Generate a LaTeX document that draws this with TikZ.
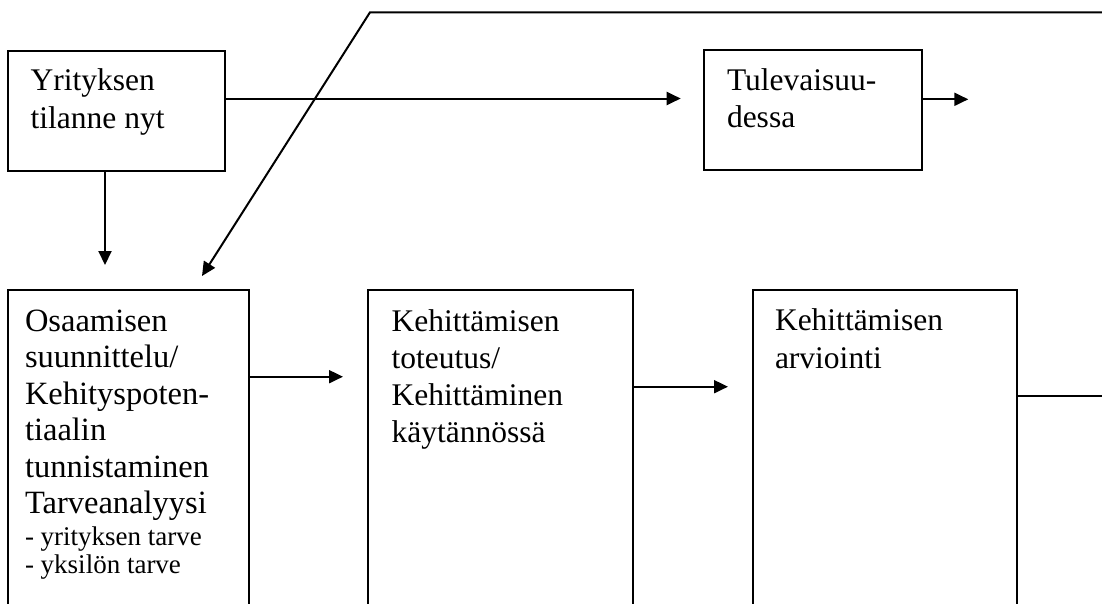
\documentclass[tikz,border=0pt]{standalone}
\usepackage{fontspec}
\setmainfont{Liberation Serif}
\usetikzlibrary{arrows.meta}
\begin{document}
\begin{tikzpicture}[x=1pt,y=-1pt,
  box/.style={draw, line width=2pt, inner sep=0pt, outer sep=0pt, anchor=north west},
  lbl/.style={anchor=base west, inner sep=0pt, outer sep=0pt},
  link/.style={line width=2pt},
  arr/.style={line width=2pt, -{Triangle[length=14pt,width=13pt]}}]
\useasboundingbox (0,0) rectangle (1102,603);
\fill[white] (0,0) rectangle (1102,603);
\clip (0,0) rectangle (1102,603);

% boxes of the upper row
\node[box, minimum width=216.7pt, minimum height=120pt] (nyt) at (8.3,50.7) {};
\node[box, minimum width=217.4pt, minimum height=120pt] (tulevaisuus) at (704.3,50) {};
% boxes of the lower row (they run past the lower edge)
\node[box, minimum width=240.7pt, minimum height=340pt] (suunnittelu) at (8.3,289.5) {};
\node[box, minimum width=264.7pt, minimum height=340pt] (toteutus) at (368.3,290) {};
\node[box, minimum width=264.3pt, minimum height=340pt] (arviointi) at (752.7,290) {};

% texts
\node[lbl] (tnyt) at (30.7,90.7) {\parbox[t]{300pt}{\fontsize{31.5}{37.5}\selectfont
  Yrityksen\\tilanne nyt}};
\node[lbl] (ttul) at (727,90.7) {\parbox[t]{300pt}{\fontsize{31.5}{37}\selectfont
  Tulevaisuu-\\dessa}};
\node[lbl] (tsuun) at (25,331) {\parbox[t]{300pt}{%
  {\fontsize{32.5}{36.5}\selectfont Osaamisen\\suunnittelu/\\Kehityspoten-\\tiaalin\\tunnistaminen\\Tarveanalyysi\par}%
  {\fontsize{27}{32}\selectfont - yrityksen tarve\par}%
  {\fontsize{27}{28}\selectfont - yksilön tarve\par}}};
\node[lbl] (ttot) at (391.7,331) {\parbox[t]{300pt}{\fontsize{31.5}{37.3}\selectfont
  Kehittämisen\\toteutus/\\Kehittäminen\\käytännössä}};
\node[lbl] (tarv) at (775,330.7) {\parbox[t]{300pt}{\fontsize{31.5}{37.3}\selectfont
  Kehittämisen\\arviointi}};

% levels and free ends of the connectors
\coordinate (lvA) at (0,98.5);
\coordinate (lvB) at (968.3,99.3);
\coordinate (colA) at (105,0);
\coordinate (lvC) at (0,376.7);
\coordinate (lvD) at (0,386.7);
\coordinate (outE) at (1102,396);
\coordinate (fbEnd) at (1102,12.3);
\coordinate (fbBend) at (370,12.3);
\coordinate (fbTip) at (202,276);

% connectors
\draw[arr, shorten >=23.6pt] (nyt.east |- lvA) -- (tulevaisuus.west |- lvA);
\draw[arr] (tulevaisuus.east |- lvB) -- (lvB);
\draw[arr, shorten >=24.5pt] (nyt.south -| colA) -- (suunnittelu.north -| colA);
\draw[arr, shorten >=25.3pt] (suunnittelu.east |- lvC) -- (toteutus.west |- lvC);
\draw[arr, shorten >=24.7pt] (toteutus.east |- lvD) -- (arviointi.west |- lvD);
\draw[link] (arviointi.east |- outE) -- (outE);
\draw[arr] (fbEnd) -- (fbBend) -- (fbTip);
\end{tikzpicture}
\end{document}
